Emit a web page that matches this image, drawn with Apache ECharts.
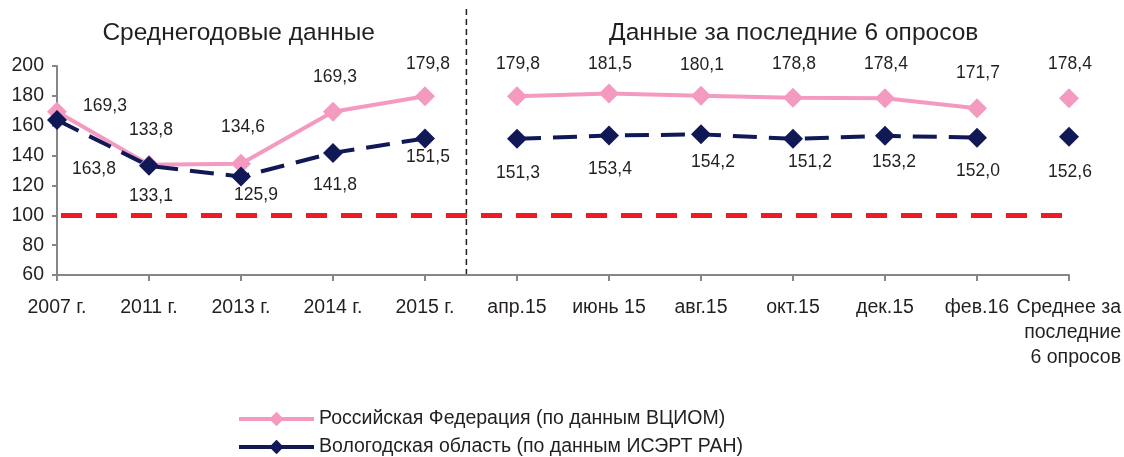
<!DOCTYPE html>
<html>
<head>
    <meta charset="utf-8">
    <script src="https://cdn.jsdelivr.net/npm/echarts@6/dist/echarts.min.js"></script>
    <style>
        html, body { margin: 0; padding: 0; background: #fff; }
        #chart { width: 1124px; height: 457px; }
    </style>
</head>
<body>
<div id="chart"></div>

<script>
    // categories (x axis)
    var categories = ['2007 г.', '2011 г.', '2013 г.', '2014 г.', '2015 г.',
        'апр.15', 'июнь 15', 'авг.15', 'окт.15', 'дек.15', 'фев.16', 'Среднее за\nпоследние\n6 опросов'];

    // Российская Федерация (ВЦИОМ)
    var rfAnnual = [169.3, 133.8, 134.6, 169.3, 179.8];
    var rfSurveys = [179.8, 181.5, 180.1, 178.8, 178.4, 171.7];
    var rfAverage = [178.4];

    // Вологодская область (ИСЭРТ РАН)
    var voAnnual = [163.8, 133.1, 125.9, 141.8, 151.5];
    var voSurveys = [151.3, 153.4, 154.2, 151.2, 153.2, 152.0];
    var voAverage = [152.6];

    var yTicks = {min: 60, max: 200, step: 20};
    var referenceLevel = 100;

    var rfName = 'Российская Федерация (по данным ВЦИОМ)';
    var voName = 'Вологодская область (по данным ИСЭРТ РАН)';

    var FONT = '"Liberation Sans", Arial, sans-serif';
    var TEXT = '#231F20';
    var PINK = '#F49AC1';
    var NAVY = '#111856';

    // label shift from each marker, one per category
    var rfShift = [[48, -6], [2, -35], [2, -36], [2, -35], [3, -32],
        [1, -32], [1, -29], [1, -31], [1, -33], [1, -34], [1, -35], [1, -34]];
    var voShift = [[37, 49], [2, 30], [15, 19], [2, 32], [3, 19],
        [1, 34], [1, 34], [12, 28], [17, 23], [9, 26], [1, 34], [1, 35]];

    function pad(values, start, shift) {
        var out = [];
        for (var i = 0; i < categories.length; i++) {
            var k = i - start;
            if (k >= 0 && k < values.length) {
                out.push({value: values[k], label: {offset: shift[i]}});
            } else {
                out.push(null);
            }
        }
        return out;
    }

    function fmt(p) {
        return p.value.toFixed(1).replace('.', ',');
    }

    function makeSeries(name, values, start, shift, color, dashed, extra) {
        var s = {
            name: name,
            type: 'line',
            data: pad(values, start, shift),
            connectNulls: false,
            symbol: 'diamond',
            symbolSize: 20,
            showAllSymbol: true,
            lineStyle: {color: color, width: 4, type: dashed ? [24, 12] : 'solid'},
            itemStyle: {color: color},
            label: {
                show: true,
                position: 'inside',
                formatter: fmt,
                color: TEXT,
                fontFamily: FONT,
                fontSize: 17.5
            },
            emphasis: {disabled: true},
            animation: false
        };
        for (var key in extra) s[key] = extra[key];
        return s;
    }

    function legendBox(name, color, top) {
        return {
            orient: 'vertical',
            left: 237,
            top: top,
            padding: 0,
            itemWidth: 75,
            itemHeight: 18,
            selectedMode: false,
            textStyle: {fontFamily: FONT, fontSize: 19.5, color: TEXT},
            data: [{
                name: name,
                itemStyle: {color: color},
                lineStyle: {color: color, width: 4, type: 'solid'}
            }]
        };
    }

    var chart = echarts.init(document.getElementById('chart'));

    var series = [
        makeSeries(rfName, rfAnnual, 0, rfShift, PINK, false, {
            markLine: {
                silent: true,
                symbol: 'none',
                label: {show: false},
                lineStyle: {color: '#ED1C24', width: 5, type: [21, 14], dashOffset: -4},
                data: [{yAxis: referenceLevel}]
            }
        }),
        makeSeries(rfName, rfSurveys, 5, rfShift, PINK, false),
        makeSeries(rfName, rfAverage, 11, rfShift, PINK, false),
        makeSeries(voName, voAnnual, 0, voShift, NAVY, true),
        makeSeries(voName, voSurveys, 5, voShift, NAVY, true),
        makeSeries(voName, voAverage, 11, voShift, NAVY, true)
    ];

    chart.setOption({
        backgroundColor: '#fff',
        animation: false,
        grid: {left: 57, right: 54, top: 66, bottom: 182, containLabel: false},
        legend: [
            legendBox(rfName, PINK, 409),
            legendBox(voName, NAVY, 437)
        ],
        xAxis: {
            type: 'category',
            boundaryGap: false,
            data: categories,
            axisLine: {lineStyle: {color: '#868686', width: 2}},
            axisTick: {show: true, length: 6, inside: false, alignWithLabel: true,
                lineStyle: {color: '#868686', width: 2}},
            axisLabel: {
                interval: 0,
                margin: 20,
                fontFamily: FONT,
                fontSize: 19.5,
                color: TEXT,
                lineHeight: 25,
                formatter: function (v) {
                    if (v.indexOf('\n') < 0) return v;
                    return v.split('\n').map(function (line) {
                        return '{r|' + line + '}';
                    }).join('\n');
                },
                rich: {
                    r: {width: 104, align: 'right', fontFamily: FONT, fontSize: 19.5,
                        color: TEXT, lineHeight: 25}
                }
            },
            splitLine: {show: false}
        },
        yAxis: {
            type: 'value',
            min: yTicks.min,
            max: yTicks.max,
            interval: yTicks.step,
            axisLine: {show: true, lineStyle: {color: '#868686', width: 2}},
            axisTick: {show: true, length: 5, lineStyle: {color: '#868686', width: 2}},
            axisLabel: {margin: 13, fontFamily: FONT, fontSize: 19.5, color: TEXT},
            splitLine: {show: false}
        },
        series: series
    });

    // section divider and section headings
    var p4 = chart.convertToPixel({xAxisIndex: 0}, 4);
    var p5 = chart.convertToPixel({xAxisIndex: 0}, 5);
    var dividerX = p4 + 0.45 * (p5 - p4);
    var yBottom = chart.convertToPixel({yAxisIndex: 0}, yTicks.min);
    var p0 = chart.convertToPixel({xAxisIndex: 0}, 0);
    var p11 = chart.convertToPixel({xAxisIndex: 0}, 11);

    chart.setOption({
        graphic: [
            {
                type: 'line',
                shape: {x1: dividerX, y1: 9, x2: dividerX, y2: yBottom},
                style: {stroke: '#231F20', lineWidth: 1.5, lineDash: [6, 4]},
                silent: true
            },
            {
                type: 'text',
                x: (p0 + dividerX) / 2 - 23,
                y: 33,
                style: {text: 'Среднегодовые данные', fontFamily: FONT, fontSize: 24.5,
                    fill: TEXT, align: 'center', verticalAlign: 'middle'},
                silent: true
            },
            {
                type: 'text',
                x: (dividerX + p11) / 2 + 26,
                y: 33,
                style: {text: 'Данные за последние 6 опросов', fontFamily: FONT, fontSize: 24.5,
                    fill: TEXT, align: 'center', verticalAlign: 'middle'},
                silent: true
            }
        ]
    });
</script>
</body>
</html>
